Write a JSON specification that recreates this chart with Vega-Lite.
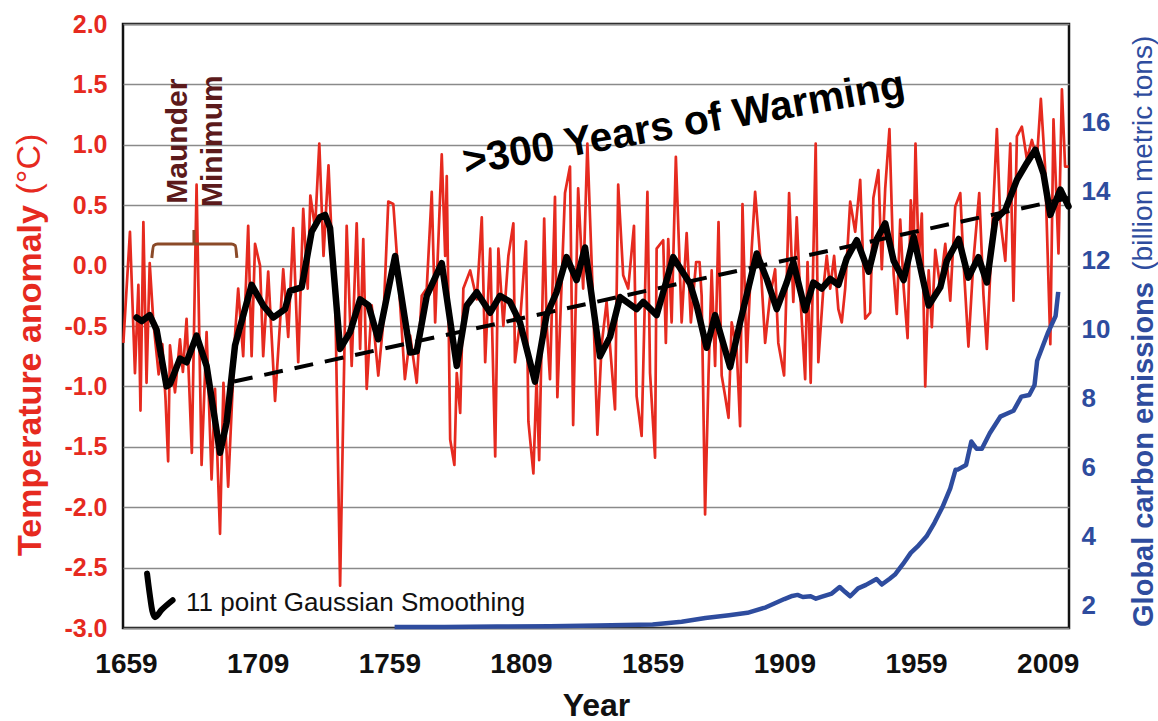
{
  "$schema": "https://vega.github.io/schema/vega-lite/v6.json",
  "width": 946,
  "height": 604,
  "autosize": {"type": "none"},
  "padding": {"left": 123, "top": 24, "right": 89, "bottom": 93},
  "background": "white",
  "config": {
    "font": "Liberation Sans",
    "view": {"stroke": "#111111", "strokeWidth": 2.5},
    "axis": {"domain": false, "ticks": false, "tickSize": 0}
  },
  "datasets": {
    "temp": [
      {"year": 1658.0, "temp": -0.64}, {"year": 1660.5, "temp": 0.28}, {"year": 1662.4, "temp": -0.89}, {"year": 1663.7, "temp": -0.16},
      {"year": 1664.5, "temp": -1.2}, {"year": 1665.6, "temp": 0.36}, {"year": 1666.8, "temp": -0.97}, {"year": 1668.0, "temp": 0.02},
      {"year": 1669.4, "temp": -0.47}, {"year": 1671.4, "temp": -0.9}, {"year": 1672.8, "temp": -0.65}, {"year": 1674.0, "temp": -1.1},
      {"year": 1675.0, "temp": -1.62}, {"year": 1675.7, "temp": -0.66}, {"year": 1677.6, "temp": -1.05}, {"year": 1679.5, "temp": -0.61},
      {"year": 1680.6, "temp": -0.88}, {"year": 1682.0, "temp": -0.44}, {"year": 1684.0, "temp": -1.55}, {"year": 1685.8, "temp": 0.67},
      {"year": 1687.7, "temp": -1.65}, {"year": 1689.6, "temp": -0.55}, {"year": 1691.5, "temp": -1.77}, {"year": 1692.8, "temp": -1.02},
      {"year": 1694.7, "temp": -2.22}, {"year": 1696.0, "temp": -0.97}, {"year": 1697.8, "temp": -1.83}, {"year": 1700.4, "temp": -0.58},
      {"year": 1701.6, "temp": -0.19}, {"year": 1703.5, "temp": -0.75}, {"year": 1705.4, "temp": 0.33}, {"year": 1706.7, "temp": -0.75},
      {"year": 1708.0, "temp": 0.18}, {"year": 1709.9, "temp": 0.0}, {"year": 1711.1, "temp": -0.75}, {"year": 1713.0, "temp": -0.05},
      {"year": 1715.6, "temp": -1.12}, {"year": 1717.5, "temp": -0.47}, {"year": 1718.7, "temp": -0.03}, {"year": 1720.6, "temp": -0.59},
      {"year": 1722.5, "temp": 0.31}, {"year": 1724.4, "temp": -0.8}, {"year": 1726.3, "temp": 0.47}, {"year": 1728.0, "temp": -0.19},
      {"year": 1729.0, "temp": 0.58}, {"year": 1730.8, "temp": 0.31}, {"year": 1732.4, "temp": 1.01}, {"year": 1734.0, "temp": 0.08},
      {"year": 1735.9, "temp": 0.83}, {"year": 1737.1, "temp": 0.22}, {"year": 1738.4, "temp": -0.19}, {"year": 1740.3, "temp": -2.65},
      {"year": 1741.6, "temp": -1.1}, {"year": 1742.8, "temp": 0.33}, {"year": 1744.7, "temp": -0.83}, {"year": 1746.6, "temp": 0.35},
      {"year": 1747.9, "temp": -0.69}, {"year": 1749.1, "temp": 0.22}, {"year": 1750.4, "temp": -1.02}, {"year": 1752.3, "temp": -0.33},
      {"year": 1754.8, "temp": -0.91}, {"year": 1756.7, "temp": -0.47}, {"year": 1758.6, "temp": 0.53}, {"year": 1760.5, "temp": 0.51},
      {"year": 1762.4, "temp": -0.08}, {"year": 1764.9, "temp": -0.94}, {"year": 1766.9, "temp": -0.58}, {"year": 1769.4, "temp": -0.97},
      {"year": 1771.3, "temp": -0.25}, {"year": 1773.2, "temp": -0.19}, {"year": 1775.1, "temp": 0.61}, {"year": 1776.4, "temp": -0.47},
      {"year": 1778.9, "temp": 0.92}, {"year": 1780.2, "temp": 0.08}, {"year": 1780.8, "temp": 0.74}, {"year": 1782.1, "temp": -1.44},
      {"year": 1783.7, "temp": -1.65}, {"year": 1784.6, "temp": -0.89}, {"year": 1785.9, "temp": -1.22}, {"year": 1787.1, "temp": -0.19},
      {"year": 1789.7, "temp": -0.04}, {"year": 1792.2, "temp": -0.28}, {"year": 1794.1, "temp": 0.4}, {"year": 1795.4, "temp": -0.8},
      {"year": 1797.3, "temp": 0.14}, {"year": 1799.2, "temp": -1.58}, {"year": 1800.4, "temp": 0.14}, {"year": 1802.3, "temp": -0.5},
      {"year": 1804.2, "temp": 0.08}, {"year": 1806.1, "temp": 0.35}, {"year": 1806.7, "temp": -0.8}, {"year": 1808.6, "temp": -0.47},
      {"year": 1810.9, "temp": 0.2}, {"year": 1811.8, "temp": -1.29}, {"year": 1813.7, "temp": -1.72}, {"year": 1814.9, "temp": -0.94},
      {"year": 1815.9, "temp": -1.61}, {"year": 1817.8, "temp": 0.39}, {"year": 1818.7, "temp": -0.47}, {"year": 1820.0, "temp": -0.94},
      {"year": 1821.9, "temp": 0.57}, {"year": 1822.8, "temp": -1.09}, {"year": 1825.7, "temp": 0.6}, {"year": 1827.6, "temp": 0.82},
      {"year": 1828.8, "temp": -1.32}, {"year": 1830.7, "temp": 0.64}, {"year": 1832.6, "temp": -0.19}, {"year": 1834.2, "temp": 1.01},
      {"year": 1836.4, "temp": -0.33}, {"year": 1838.0, "temp": -1.4}, {"year": 1839.6, "temp": -0.66}, {"year": 1841.5, "temp": -0.3},
      {"year": 1843.0, "temp": -0.72}, {"year": 1844.7, "temp": -1.19}, {"year": 1845.9, "temp": 0.67}, {"year": 1847.8, "temp": -0.08},
      {"year": 1849.7, "temp": -0.19}, {"year": 1851.9, "temp": 0.33}, {"year": 1852.9, "temp": -1.08}, {"year": 1854.8, "temp": -1.41},
      {"year": 1857.0, "temp": 0.61}, {"year": 1858.0, "temp": -0.89}, {"year": 1859.9, "temp": -1.59}, {"year": 1860.5, "temp": 0.14},
      {"year": 1863.0, "temp": 0.21}, {"year": 1864.0, "temp": -0.64}, {"year": 1864.9, "temp": 0.22}, {"year": 1866.2, "temp": -0.47},
      {"year": 1867.8, "temp": 0.9}, {"year": 1870.0, "temp": -0.47}, {"year": 1871.9, "temp": 0.27}, {"year": 1873.5, "temp": -0.47},
      {"year": 1875.5, "temp": 0.03}, {"year": 1876.8, "temp": 0.03}, {"year": 1877.6, "temp": -0.25}, {"year": 1878.9, "temp": -2.06},
      {"year": 1880.2, "temp": -0.91}, {"year": 1881.4, "temp": -0.04}, {"year": 1882.7, "temp": -0.83}, {"year": 1884.0, "temp": 0.36},
      {"year": 1885.2, "temp": -0.91}, {"year": 1886.5, "temp": -1.08}, {"year": 1887.8, "temp": -1.26}, {"year": 1889.0, "temp": -0.47},
      {"year": 1890.9, "temp": -0.69}, {"year": 1892.2, "temp": -1.33}, {"year": 1893.1, "temp": 0.51}, {"year": 1894.7, "temp": -0.8},
      {"year": 1896.6, "temp": 0.14}, {"year": 1897.9, "temp": 0.61}, {"year": 1899.8, "temp": 0.08}, {"year": 1901.7, "temp": -0.64},
      {"year": 1903.6, "temp": -0.25}, {"year": 1905.5, "temp": -0.03}, {"year": 1906.7, "temp": -0.64}, {"year": 1908.9, "temp": -0.91},
      {"year": 1910.8, "temp": 0.6}, {"year": 1912.4, "temp": -0.3}, {"year": 1913.7, "temp": 0.4}, {"year": 1914.9, "temp": -0.19},
      {"year": 1916.9, "temp": -0.94}, {"year": 1917.8, "temp": 0.03}, {"year": 1919.0, "temp": -0.97}, {"year": 1920.9, "temp": 1.01},
      {"year": 1921.9, "temp": -0.8}, {"year": 1923.8, "temp": -0.19}, {"year": 1925.1, "temp": 0.08}, {"year": 1926.4, "temp": -0.19},
      {"year": 1927.9, "temp": 0.08}, {"year": 1929.5, "temp": -0.36}, {"year": 1930.8, "temp": -0.47}, {"year": 1932.1, "temp": -0.19},
      {"year": 1934.0, "temp": 0.53}, {"year": 1935.9, "temp": 0.28}, {"year": 1937.8, "temp": 0.71}, {"year": 1939.7, "temp": -0.44},
      {"year": 1941.6, "temp": -0.39}, {"year": 1942.8, "temp": 0.56}, {"year": 1944.7, "temp": 0.79}, {"year": 1946.0, "temp": -0.03},
      {"year": 1947.3, "temp": 0.64}, {"year": 1948.9, "temp": 1.13}, {"year": 1950.5, "temp": -0.07}, {"year": 1951.7, "temp": -0.4},
      {"year": 1953.0, "temp": 0.38}, {"year": 1954.3, "temp": -0.18}, {"year": 1955.8, "temp": -0.6}, {"year": 1957.0, "temp": 0.54},
      {"year": 1958.1, "temp": 0.18}, {"year": 1958.8, "temp": 1.01}, {"year": 1960.0, "temp": 0.04}, {"year": 1961.2, "temp": 0.43},
      {"year": 1962.5, "temp": -1.0}, {"year": 1963.8, "temp": -0.04}, {"year": 1965.0, "temp": -0.51}, {"year": 1966.3, "temp": 0.13},
      {"year": 1968.2, "temp": -0.18}, {"year": 1970.1, "temp": 0.18}, {"year": 1972.0, "temp": -0.29}, {"year": 1973.9, "temp": 0.49},
      {"year": 1975.8, "temp": 0.6}, {"year": 1977.0, "temp": 0.04}, {"year": 1978.9, "temp": -0.67}, {"year": 1980.8, "temp": 0.04},
      {"year": 1983.0, "temp": 0.6}, {"year": 1984.6, "temp": -0.24}, {"year": 1985.9, "temp": -0.69}, {"year": 1987.8, "temp": 0.24},
      {"year": 1989.7, "temp": 1.13}, {"year": 1991.0, "temp": 0.38}, {"year": 1992.9, "temp": 0.04}, {"year": 1994.8, "temp": 1.01},
      {"year": 1996.0, "temp": -0.29}, {"year": 1997.3, "temp": 1.07}, {"year": 1999.2, "temp": 1.15}, {"year": 2001.1, "temp": 0.88},
      {"year": 2003.0, "temp": 1.04}, {"year": 2004.9, "temp": 0.88}, {"year": 2006.4, "temp": 1.38}, {"year": 2008.0, "temp": 0.82},
      {"year": 2010.0, "temp": -0.65}, {"year": 2011.2, "temp": 1.21}, {"year": 2013.1, "temp": 0.1}, {"year": 2014.4, "temp": 1.46},
      {"year": 2015.6, "temp": 0.82}, {"year": 2016.9, "temp": 0.82}
    ],
    "smooth": [
      {"year": 1663.0, "temp": -0.43}, {"year": 1665.0, "temp": -0.46}, {"year": 1668.0, "temp": -0.41}, {"year": 1670.6, "temp": -0.53},
      {"year": 1674.4, "temp": -1.0}, {"year": 1675.7, "temp": -0.98}, {"year": 1679.5, "temp": -0.77}, {"year": 1682.0, "temp": -0.8},
      {"year": 1685.8, "temp": -0.58}, {"year": 1689.6, "temp": -0.83}, {"year": 1694.7, "temp": -1.55}, {"year": 1697.2, "temp": -1.3},
      {"year": 1700.4, "temp": -0.66}, {"year": 1706.7, "temp": -0.16}, {"year": 1711.1, "temp": -0.33}, {"year": 1714.9, "temp": -0.43},
      {"year": 1719.4, "temp": -0.36}, {"year": 1721.3, "temp": -0.21}, {"year": 1725.7, "temp": -0.18}, {"year": 1729.5, "temp": 0.28},
      {"year": 1732.6, "temp": 0.4}, {"year": 1734.6, "temp": 0.42}, {"year": 1736.5, "temp": 0.31}, {"year": 1740.3, "temp": -0.69},
      {"year": 1744.1, "temp": -0.55}, {"year": 1747.9, "temp": -0.28}, {"year": 1751.1, "temp": -0.33}, {"year": 1754.8, "temp": -0.61},
      {"year": 1761.2, "temp": 0.08}, {"year": 1766.9, "temp": -0.72}, {"year": 1769.4, "temp": -0.71}, {"year": 1773.2, "temp": -0.25},
      {"year": 1778.9, "temp": 0.02}, {"year": 1784.6, "temp": -0.83}, {"year": 1788.4, "temp": -0.33}, {"year": 1792.2, "temp": -0.22},
      {"year": 1797.3, "temp": -0.39}, {"year": 1801.0, "temp": -0.25}, {"year": 1804.8, "temp": -0.3}, {"year": 1808.6, "temp": -0.47},
      {"year": 1814.3, "temp": -0.96}, {"year": 1818.7, "temp": -0.41}, {"year": 1822.5, "temp": -0.22}, {"year": 1826.3, "temp": 0.07},
      {"year": 1830.1, "temp": -0.12}, {"year": 1833.3, "temp": 0.15}, {"year": 1839.0, "temp": -0.75}, {"year": 1842.8, "temp": -0.59},
      {"year": 1846.6, "temp": -0.26}, {"year": 1852.9, "temp": -0.36}, {"year": 1855.4, "temp": -0.3}, {"year": 1860.5, "temp": -0.41},
      {"year": 1866.8, "temp": 0.07}, {"year": 1873.2, "temp": -0.15}, {"year": 1875.7, "temp": -0.33}, {"year": 1879.5, "temp": -0.68},
      {"year": 1882.7, "temp": -0.41}, {"year": 1888.4, "temp": -0.84}, {"year": 1892.2, "temp": -0.47}, {"year": 1898.5, "temp": 0.1},
      {"year": 1902.3, "temp": -0.11}, {"year": 1906.1, "temp": -0.36}, {"year": 1909.9, "temp": -0.14}, {"year": 1912.4, "temp": 0.03},
      {"year": 1916.9, "temp": -0.37}, {"year": 1920.0, "temp": -0.14}, {"year": 1923.2, "temp": -0.19}, {"year": 1926.4, "temp": -0.11},
      {"year": 1929.5, "temp": -0.16}, {"year": 1932.7, "temp": 0.06}, {"year": 1936.5, "temp": 0.21}, {"year": 1941.0, "temp": -0.05},
      {"year": 1944.1, "temp": 0.22}, {"year": 1947.3, "temp": 0.35}, {"year": 1950.5, "temp": 0.04}, {"year": 1954.3, "temp": -0.12},
      {"year": 1958.1, "temp": 0.24}, {"year": 1963.8, "temp": -0.33}, {"year": 1968.2, "temp": -0.18}, {"year": 1970.7, "temp": 0.04},
      {"year": 1975.2, "temp": 0.22}, {"year": 1978.9, "temp": -0.1}, {"year": 1982.7, "temp": 0.07}, {"year": 1985.9, "temp": -0.14},
      {"year": 1989.1, "temp": 0.38}, {"year": 1992.9, "temp": 0.46}, {"year": 1997.3, "temp": 0.71}, {"year": 2001.1, "temp": 0.85},
      {"year": 2004.3, "temp": 0.96}, {"year": 2007.4, "temp": 0.76}, {"year": 2010.0, "temp": 0.42}, {"year": 2013.8, "temp": 0.63},
      {"year": 2016.9, "temp": 0.49}
    ],
    "trend": [
      {"year": 1700.0, "temp": -0.96}, {"year": 2017.0, "temp": 0.56}
    ],
    "bracket": [
      {"part": "main", "o": 1, "year": 1668.8, "temp": 0.063},
      {"part": "main", "o": 2, "year": 1669.5, "temp": 0.165},
      {"part": "main", "o": 3, "year": 1671.0, "temp": 0.179},
      {"part": "main", "o": 4, "year": 1699.0, "temp": 0.179},
      {"part": "main", "o": 5, "year": 1700.5, "temp": 0.165},
      {"part": "main", "o": 6, "year": 1701.1, "temp": 0.063},
      {"part": "stem", "o": 1, "year": 1684.8, "temp": 0.179},
      {"part": "stem", "o": 2, "year": 1684.8, "temp": 0.295}
    ],
    "check": [
      {"o": 1, "year": 1667.0, "temp": -2.55}, {"o": 2, "year": 1668.0, "temp": -2.72}, {"o": 3, "year": 1669.0, "temp": -2.86},
      {"o": 4, "year": 1670.0, "temp": -2.91}, {"o": 5, "year": 1672.5, "temp": -2.85}, {"o": 6, "year": 1676.7, "temp": -2.77}
    ],
    "carbon": [
      {"year": 1761, "emis": 1.38}, {"year": 1780, "emis": 1.38}, {"year": 1800, "emis": 1.39}, {"year": 1820, "emis": 1.4},
      {"year": 1838, "emis": 1.42}, {"year": 1859, "emis": 1.45}, {"year": 1870, "emis": 1.53}, {"year": 1879, "emis": 1.64},
      {"year": 1888, "emis": 1.72}, {"year": 1895, "emis": 1.79}, {"year": 1902, "emis": 1.95}, {"year": 1909, "emis": 2.19},
      {"year": 1912, "emis": 2.28}, {"year": 1914, "emis": 2.31}, {"year": 1916, "emis": 2.25}, {"year": 1919, "emis": 2.27},
      {"year": 1921, "emis": 2.2}, {"year": 1923, "emis": 2.25}, {"year": 1927, "emis": 2.35}, {"year": 1930, "emis": 2.54},
      {"year": 1932, "emis": 2.4}, {"year": 1934, "emis": 2.27}, {"year": 1937, "emis": 2.5}, {"year": 1940, "emis": 2.6},
      {"year": 1944, "emis": 2.77}, {"year": 1946, "emis": 2.61}, {"year": 1949, "emis": 2.78}, {"year": 1951, "emis": 2.9},
      {"year": 1954, "emis": 3.2}, {"year": 1957, "emis": 3.53}, {"year": 1960, "emis": 3.75}, {"year": 1963, "emis": 4.01},
      {"year": 1966, "emis": 4.4}, {"year": 1969, "emis": 4.85}, {"year": 1972, "emis": 5.4}, {"year": 1974, "emis": 5.94},
      {"year": 1975, "emis": 5.95}, {"year": 1978, "emis": 6.08}, {"year": 1980, "emis": 6.76}, {"year": 1982, "emis": 6.55},
      {"year": 1984, "emis": 6.55}, {"year": 1987, "emis": 7.0}, {"year": 1991, "emis": 7.48}, {"year": 1993, "emis": 7.55},
      {"year": 1996, "emis": 7.65}, {"year": 1999, "emis": 8.06}, {"year": 2002, "emis": 8.11}, {"year": 2004, "emis": 8.4},
      {"year": 2005, "emis": 9.1}, {"year": 2007, "emis": 9.5}, {"year": 2009, "emis": 9.9}, {"year": 2012, "emis": 10.4},
      {"year": 2013, "emis": 11.1}
    ]
  },
  "layer": [
    {
      "layer": [
        {
          "data": {"name": "temp"},
          "mark": {"type": "line", "color": "#E62A1F", "strokeWidth": 2.7, "strokeJoin": "round"},
          "encoding": {
            "x": {
              "field": "year", "type": "quantitative",
              "scale": {"domain": [1657.86, 2017.09], "nice": false, "zero": false},
              "axis": {
                "orient": "bottom",
                "values": [1659, 1709, 1759, 1809, 1859, 1909, 1959, 2009],
                "format": "d", "grid": false,
                "labelFont": "Liberation Sans Narrow, Liberation Sans",
                "labelFontWeight": "bold", "labelFontSize": 28, "labelColor": "#111111",
                "labelPadding": 22,
                "title": "Year", "titleFont": "Liberation Sans", "titleFontSize": 32,
                "titleFontWeight": "bold", "titleColor": "#111111",
                "titleY": 77, "titleBaseline": "middle"
              }
            },
            "y": {
              "field": "temp", "type": "quantitative",
              "scale": {"domain": [-3, 2], "nice": false, "zero": false},
              "axis": {
                "orient": "left",
                "values": [-3, -2.5, -2, -1.5, -1, -0.5, 0, 0.5, 1, 1.5, 2],
                "labelExpr": "replace(format(datum.value, '.1f'), '\u2212', '-')",
                "grid": true, "gridColor": "#8a8a8a", "gridWidth": 1.6,
                "labelFont": "Liberation Sans", "labelFontWeight": "bold",
                "labelFontSize": 25, "labelColor": "#E62A1F", "labelPadding": 16,
                "title": "Temperature anomaly", "titleFont": "Liberation Sans",
                "titleFontSize": 34, "titleFontWeight": "bold", "titleColor": "#E62A1F",
                "titleX": -93, "titleY": 356, "titleAngle": 270,
                "titleAlign": "center", "titleBaseline": "middle"
              }
            }
          }
        },
        {
          "data": {"name": "smooth"},
          "mark": {"type": "line", "color": "#000000", "strokeWidth": 6.5, "strokeJoin": "round", "strokeCap": "round"},
          "encoding": {
            "x": {"field": "year", "type": "quantitative", "scale": {"domain": [1657.86, 2017.09], "nice": false, "zero": false}},
            "y": {"field": "temp", "type": "quantitative", "scale": {"domain": [-3, 2], "nice": false, "zero": false}}
          }
        },
        {
          "data": {"name": "trend"},
          "mark": {"type": "line", "color": "#000000", "strokeWidth": 4, "strokeDash": [19, 12]},
          "encoding": {
            "x": {"field": "year", "type": "quantitative", "scale": {"domain": [1657.86, 2017.09], "nice": false, "zero": false}},
            "y": {"field": "temp", "type": "quantitative", "scale": {"domain": [-3, 2], "nice": false, "zero": false}}
          }
        },
        {
          "data": {"name": "bracket"},
          "mark": {"type": "line", "color": "#8B4A28", "strokeWidth": 3, "strokeJoin": "round", "interpolate": "monotone"},
          "encoding": {
            "x": {"field": "year", "type": "quantitative", "scale": {"domain": [1657.86, 2017.09], "nice": false, "zero": false}},
            "y": {"field": "temp", "type": "quantitative", "scale": {"domain": [-3, 2], "nice": false, "zero": false}},
            "detail": {"field": "part"},
            "order": {"field": "o", "type": "quantitative"}
          }
        },
        {
          "data": {"name": "check"},
          "mark": {"type": "line", "color": "#000000", "strokeWidth": 6, "strokeJoin": "round", "strokeCap": "round", "interpolate": "monotone"},
          "encoding": {
            "x": {"field": "year", "type": "quantitative", "scale": {"domain": [1657.86, 2017.09], "nice": false, "zero": false}},
            "y": {"field": "temp", "type": "quantitative", "scale": {"domain": [-3, 2], "nice": false, "zero": false}},
            "order": {"field": "o", "type": "quantitative"}
          }
        },
        {
          "data": {"values": [{"year": 1870.9, "temp": 1.17, "label": ">300 Years of Warming"}]},
          "mark": {"type": "text", "font": "Liberation Sans", "fontWeight": "bold", "fontSize": 41, "angle": -10, "align": "center", "baseline": "middle", "color": "#000000"},
          "encoding": {
            "x": {"field": "year", "type": "quantitative", "scale": {"domain": [1657.86, 2017.09], "nice": false, "zero": false}},
            "y": {"field": "temp", "type": "quantitative", "scale": {"domain": [-3, 2], "nice": false, "zero": false}},
            "text": {"field": "label"}
          }
        },
        {
          "data": {"values": [{"year": 1678.7, "temp": 1.03, "label": "Maunder"}, {"year": 1692.0, "temp": 1.03, "label": "Minimum"}]},
          "mark": {"type": "text", "font": "Liberation Sans", "fontWeight": "bold", "fontSize": 30, "angle": 270, "align": "center", "baseline": "middle", "color": "#5C1A1B"},
          "encoding": {
            "x": {"field": "year", "type": "quantitative", "scale": {"domain": [1657.86, 2017.09], "nice": false, "zero": false}},
            "y": {"field": "temp", "type": "quantitative", "scale": {"domain": [-3, 2], "nice": false, "zero": false}},
            "text": {"field": "label"}
          }
        },
        {
          "data": {"values": [{"year": 1681.8, "temp": -2.79, "label": "11 point Gaussian Smoothing"}]},
          "mark": {"type": "text", "font": "Liberation Sans", "fontSize": 26, "align": "left", "baseline": "middle", "color": "#111111"},
          "encoding": {
            "x": {"field": "year", "type": "quantitative", "scale": {"domain": [1657.86, 2017.09], "nice": false, "zero": false}},
            "y": {"field": "temp", "type": "quantitative", "scale": {"domain": [-3, 2], "nice": false, "zero": false}},
            "text": {"field": "label"}
          }
        },
        {
          "data": {"values": [{"year": 1622.5, "temp": 0.84, "label": "(°C)"}]},
          "mark": {"type": "text", "font": "Liberation Sans", "fontSize": 34, "angle": 270, "align": "center", "baseline": "middle", "color": "#E62A1F"},
          "encoding": {
            "x": {"field": "year", "type": "quantitative", "scale": {"domain": [1657.86, 2017.09], "nice": false, "zero": false}},
            "y": {"field": "temp", "type": "quantitative", "scale": {"domain": [-3, 2], "nice": false, "zero": false}},
            "text": {"field": "label"}
          }
        },
        {
          "data": {"values": [{"year": 2045.4, "temp": 0.93, "label": "(billion metric tons)"}]},
          "mark": {"type": "text", "font": "Liberation Sans", "fontSize": 28, "angle": 270, "align": "center", "baseline": "middle", "color": "#2E4C9E"},
          "encoding": {
            "x": {"field": "year", "type": "quantitative", "scale": {"domain": [1657.86, 2017.09], "nice": false, "zero": false}},
            "y": {"field": "temp", "type": "quantitative", "scale": {"domain": [-3, 2], "nice": false, "zero": false}},
            "text": {"field": "label"}
          }
        }
      ]
    },
    {
      "data": {"name": "carbon"},
      "mark": {"type": "line", "color": "#2E4C9E", "strokeWidth": 4.5, "strokeJoin": "round"},
      "encoding": {
        "x": {"field": "year", "type": "quantitative", "scale": {"domain": [1657.86, 2017.09], "nice": false, "zero": false}},
        "y": {
          "field": "emis", "type": "quantitative",
          "scale": {"domain": [1.35, 18.87], "nice": false, "zero": false},
          "axis": {
            "orient": "right",
            "values": [2, 4, 6, 8, 10, 12, 14, 16],
            "grid": false,
            "labelFont": "Liberation Sans", "labelFontWeight": "bold",
            "labelFontSize": 26, "labelColor": "#2E4C9E", "labelPadding": 12,
            "title": "Global carbon emissions", "titleFont": "Liberation Sans",
            "titleFontSize": 29, "titleFontWeight": "bold", "titleColor": "#2E4C9E",
            "titleX": 74, "titleY": 430, "titleAngle": 270,
            "titleAlign": "center", "titleBaseline": "middle"
          }
        }
      }
    }
  ],
  "resolve": {"scale": {"y": "independent"}}
}
